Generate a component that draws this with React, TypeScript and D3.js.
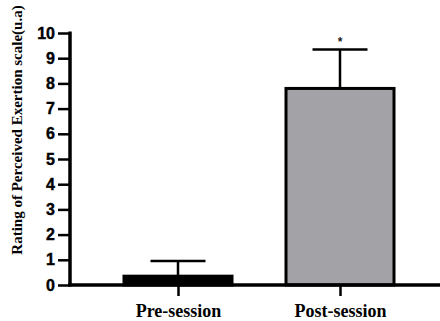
import React, { useEffect, useRef } from "react";
import * as d3 from "d3";

const categories = ["Pre-session", "Post-session"];
const means = [0.35, 7.8];
const sds = [0.6, 1.55];
const barFills = ["#000000", "#a3a2a7"];
const yTicks = [0, 1, 2, 3, 4, 5, 6, 7, 8, 9, 10];
const yTitle = "Rating of Perceived Exertion scale(u.a)";

const width = 440;
const height = 321;

export default function App() {
  const ref = useRef<SVGSVGElement>(null);

  useEffect(() => {
    const svg = d3.select(ref.current);
    svg.selectAll("*").remove();

    const y = d3.scaleLinear().domain([0, 10]).range([285, 33]);
    const x = d3.scalePoint().domain(categories).range([97, 421]).padding(0.5);
    const barW = 108;

    // bars
    svg.append("g")
      .selectAll("rect")
      .data(categories)
      .join("rect")
      .attr("x", d => x(d)! - barW / 2)
      .attr("y", (d, i) => y(means[i]))
      .attr("width", barW)
      .attr("height", (d, i) => y(0) - y(means[i]))
      .attr("fill", (d, i) => barFills[i])
      .attr("stroke", "#000")
      .attr("stroke-width", 3);

    // error bars (upper only)
    const eb = svg.append("g").attr("stroke", "#000").attr("stroke-width", 2.5);
    categories.forEach((c, i) => {
      const cx = x(c)!;
      eb.append("line")
        .attr("x1", cx).attr("x2", cx)
        .attr("y1", y(means[i])).attr("y2", y(means[i] + sds[i]));
      eb.append("line")
        .attr("x1", cx - 27.5).attr("x2", cx + 27.5)
        .attr("y1", y(means[i] + sds[i])).attr("y2", y(means[i] + sds[i]));
    });

    // significance marker
    svg.append("text")
      .attr("x", x("Post-session")!)
      .attr("y", y(means[1] + sds[1]) - 3)
      .attr("text-anchor", "middle")
      .attr("font-family", "Liberation Sans, Arial, sans-serif")
      .attr("font-weight", "bold")
      .attr("font-size", 12)
      .attr("fill", "#222")
      .text("*");

    // y axis
    const gy = svg.append("g").attr("transform", "translate(70,0)");
    gy.call(d3.axisLeft(y).tickValues(yTicks).tickSize(12).tickPadding(3).tickFormat(d3.format("d")));
    gy.select(".domain").remove();
    gy.selectAll(".tick line").attr("stroke", "#000").attr("stroke-width", 2.5);
    gy.selectAll(".tick text")
      .attr("fill", "#000")
      .attr("font-family", "Liberation Sans, Arial, sans-serif")
      .attr("font-weight", "bold")
      .attr("font-size", 16)
      .attr("stroke", "#000")
      .attr("stroke-width", 0.4);
    gy.append("line")
      .attr("x1", 0).attr("x2", 0)
      .attr("y1", y(10) - 1.5).attr("y2", y(0) + 1.5)
      .attr("stroke", "#000").attr("stroke-width", 3.5);

    // x axis
    const gx = svg.append("g").attr("transform", "translate(0,285)");
    gx.call(d3.axisBottom(x).tickSize(11).tickPadding(8));
    gx.select(".domain").remove();
    gx.selectAll(".tick line").attr("stroke", "#000").attr("stroke-width", 2.5);
    gx.selectAll(".tick text")
      .attr("fill", "#000")
      .attr("font-family", "Liberation Serif, Times New Roman, serif")
      .attr("font-weight", "bold")
      .attr("font-size", 18);
    gx.append("line")
      .attr("x1", 68).attr("x2", 440)
      .attr("y1", 0).attr("y2", 0)
      .attr("stroke", "#000").attr("stroke-width", 3.5);

    // y title
    svg.append("text")
      .attr("transform", `translate(22,${130}) rotate(-90)`)
      .attr("text-anchor", "middle")
      .attr("font-family", "Liberation Serif, Times New Roman, serif")
      .attr("font-weight", "bold")
      .attr("font-size", 15)
      .attr("fill", "#000")
      .text(yTitle);
  }, []);

  return (
    <svg
      ref={ref}
      width={width}
      height={height}
      style={{ position: "absolute", left: 0, top: 0, background: "#fff" }}
    />
  );
}
